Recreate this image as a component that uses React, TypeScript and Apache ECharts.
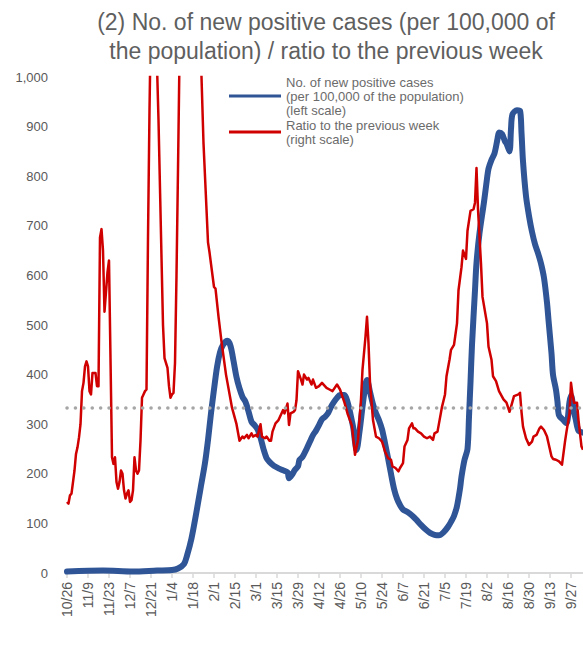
import React, { useEffect, useRef } from 'react';
import * as echarts from 'echarts';

// Title
const titleText = '(2) No. of new positive cases (per 100,000 of\nthe population) / ratio to the previous week';

// Legend names
const caseName = 'No. of new positive cases\n(per 100,000 of the population)\n(left scale)';
const ratioName = 'Ratio to the previous week\n(right scale)';

// X axis: day index from 10/26 (2020), ticks every 14 days
const xTickDays = [0, 14, 28, 42, 56, 70, 84, 98, 112, 126, 140, 154, 168, 182, 196, 210, 224, 238, 252, 266, 280, 294, 308, 322, 336];
const xTickLabels = ['10/26', '11/9', '11/23', '12/7', '12/21', '1/4', '1/18', '2/1', '2/15', '3/1', '3/15', '3/29', '4/12', '4/26', '5/10', '5/24', '6/7', '6/21', '7/5', '7/19', '8/2', '8/16', '8/30', '9/13', '9/27'];

// New positive cases per 100,000 (left scale)
const caseDays = [0, 24, 44, 60, 70, 74, 78, 80, 83, 86, 89, 92, 94, 96, 98, 100, 102, 104, 107, 109, 111, 113, 115, 117, 119, 121, 123, 125, 127, 129, 131, 133, 135, 138, 141, 144, 147, 148, 150, 152, 154, 155, 157, 160, 162, 164, 166, 168, 170, 172, 174, 176, 178, 180, 182, 185, 187, 189, 191, 192, 193, 195, 197, 199, 200, 202, 204, 206, 208, 210, 212, 214, 216, 218, 220, 222, 224, 227, 230, 233, 236, 239, 242, 245, 248, 251, 254, 256, 258, 260, 262, 263, 265, 267, 268, 269, 270, 272, 273, 275, 278, 280, 281, 283, 285, 287, 288, 290, 292, 293, 295, 296, 297, 300, 302, 303, 304, 306, 308, 310, 312, 314, 316, 318, 320, 321, 323, 324, 326, 327, 328, 331, 333, 335, 336, 338, 339, 341, 344];
const caseValues = [3, 5, 3, 5, 6, 9, 18, 35, 70, 118, 170, 222, 268, 322, 370, 415, 445, 460, 468, 458, 428, 395, 372, 355, 345, 326, 305, 298, 290, 273, 250, 232, 224, 216, 211, 207, 203, 191, 198, 208, 215, 228, 234, 252, 265, 278, 287, 298, 310, 315, 322, 335, 345, 353, 359, 359, 345, 320, 290, 265, 248, 285, 335, 380, 389, 365, 340, 322, 308, 290, 262, 232, 200, 170, 150, 137, 128, 123, 116, 107, 97, 88, 81, 77, 76, 82, 93, 103, 115, 135, 170, 194, 228, 250, 315, 385, 460, 570, 625, 685, 748, 795, 815, 833, 846, 875, 888, 885, 870, 866, 850, 895, 925, 933, 932, 888, 830, 760, 720, 688, 663, 645, 624, 595, 545, 510, 443, 400, 369, 345, 318, 308, 302, 345, 358, 325, 312, 287, 283];

// Ratio to the previous week (right scale)
const ratioDays = [0, 1, 2, 3, 4, 5, 6, 7, 8, 9, 10, 11, 12, 13, 14, 15, 16, 17, 19, 20, 21, 22, 23, 24, 25, 26, 27, 28, 30, 31, 32, 33, 34, 35, 36, 37, 38, 39, 40, 41, 42, 43, 44, 45, 46, 47, 48, 49, 50, 51, 52, 53, 54, 55, 56, 59, 61, 63, 64, 65, 67, 68, 69, 70, 71, 72, 73, 74, 76, 88, 89, 91, 93, 94, 95, 96, 98, 99, 101, 103, 106, 107, 110, 113, 115, 117, 118, 120, 121, 123, 124, 126, 127, 129, 130, 132, 133, 135, 136, 137, 139, 141, 142, 144, 145, 147, 148, 149, 151, 152, 153, 154, 156, 157, 158, 160, 161, 163, 164, 166, 168, 170, 173, 175, 177, 180, 182, 185, 187, 190, 191, 192, 194, 196, 197, 199, 200, 201, 202, 204, 206, 208, 210, 212, 214, 216, 217, 219, 221, 222, 224, 225, 227, 228, 230, 231, 232, 234, 236, 238, 240, 242, 244, 245, 247, 248, 250, 252, 253, 255, 256, 258, 260, 261, 263, 264, 266, 267, 269, 271, 272, 273, 274, 276, 277, 280, 281, 283, 284, 286, 288, 291, 293, 295, 296, 298, 301, 302, 303, 304, 306, 308, 310, 311, 313, 315, 316, 318, 320, 321, 323, 324, 326, 328, 330, 331, 332, 333, 335, 336, 337, 338, 340, 341, 343, 344];
const ratioValues = [0.43, 0.42, 0.47, 0.48, 0.55, 0.62, 0.72, 0.76, 0.82, 0.9, 1.1, 1.15, 1.25, 1.28, 1.25, 1.1, 1.08, 1.21, 1.21, 1.13, 1.13, 2.03, 2.08, 1.95, 1.58, 1.7, 1.82, 1.89, 0.7, 0.66, 0.7, 0.55, 0.51, 0.55, 0.62, 0.6, 0.5, 0.45, 0.48, 0.5, 0.43, 0.44, 0.5, 0.7, 0.62, 0.6, 0.62, 0.8, 1.06, 1.08, 1.1, 1.11, 2.03, 2.8, 3.4, 3.4, 2.74, 1.91, 1.5, 1.3, 1.24, 1.13, 1.06, 1.08, 1.09, 1.27, 1.8, 2.44, 3.8, 3.5, 3.2, 2.6, 2.2, 2.0, 1.94, 1.87, 1.73, 1.72, 1.55, 1.4, 1.2, 1.15, 1.0, 0.9, 0.8, 0.825, 0.815, 0.835, 0.815, 0.845, 0.825, 0.835, 0.825, 0.9, 0.825, 0.815, 0.825, 0.8, 0.8, 0.855, 0.905, 0.925, 0.945, 0.985, 0.965, 1.025, 0.895, 0.965, 0.975, 0.985, 1.045, 1.22, 1.17, 1.14, 1.2, 1.17, 1.18, 1.14, 1.17, 1.12, 1.13, 1.15, 1.12, 1.11, 1.1, 1.14, 1.11, 1.03, 0.965, 0.89, 0.8, 0.715, 0.805, 1.05, 1.23, 1.43, 1.55, 1.39, 1.15, 0.925, 0.825, 0.815, 0.795, 0.735, 0.695, 0.685, 0.645, 0.635, 0.615, 0.635, 0.665, 0.765, 0.805, 0.875, 0.905, 0.875, 0.875, 0.855, 0.845, 0.825, 0.815, 0.825, 0.805, 0.845, 0.855, 0.905, 1.005, 1.08, 1.19, 1.29, 1.35, 1.38, 1.51, 1.71, 1.85, 1.95, 1.9, 2.07, 2.19, 2.2, 2.24, 2.45, 2.2, 1.87, 1.67, 1.51, 1.37, 1.29, 1.19, 1.16, 1.1, 1.05, 1.03, 0.975, 1.005, 1.07, 1.08, 1.09, 0.975, 0.885, 0.815, 0.775, 0.795, 0.825, 0.835, 0.875, 0.885, 0.865, 0.825, 0.785, 0.705, 0.69, 0.685, 0.675, 0.655, 0.725, 0.795, 0.855, 0.965, 1.15, 1.08, 1.03, 1.03, 0.925, 0.765, 0.745];

const ratioReference = 1.0;

const FONT = '"Liberation Sans", Arial, sans-serif';
const GRAY = '#595959';

export default function App() {
  const ref = useRef<HTMLDivElement>(null);

  useEffect(() => {
    const chart = echarts.init(ref.current!, null, { renderer: 'svg' });
    const caseData = caseDays.map((d, i) => [d, caseValues[i]]);
    const ratioData = ratioDays.map((d, i) => [d, ratioValues[i]]);
    chart.setOption({
      animation: false,
      backgroundColor: '#ffffff',
      textStyle: { fontFamily: FONT },
      graphic: [
        {
          type: 'text',
          x: 326,
          y: 7,
          style: {
            text: titleText,
            fontSize: 23,
            lineHeight: 29,
            fontFamily: FONT,
            fill: '#5f5f5f',
            align: 'center',
            verticalAlign: 'top',
          },
        },
      ],
      legend: {
        orient: 'vertical',
        left: 229,
        top: 75,
        itemWidth: 52,
        itemHeight: 3,
        itemGap: 1,
        icon: 'rect',
        padding: 0,
        data: [caseName, ratioName],
        textStyle: { fontSize: 13, lineHeight: 14, color: '#6b6b6b', fontFamily: FONT },
      },
      grid: { left: 67, right: 0, top: 77, bottom: 76, containLabel: false },
      xAxis: {
        type: 'value',
        min: 0,
        max: 344,
        interval: 14,
        splitLine: { show: false },
        axisLine: { show: true, lineStyle: { color: '#d9d9d9', width: 2 } },
        axisTick: { show: true, customValues: xTickDays, length: 5, lineStyle: { color: '#d9d9d9', width: 1.5 } },
        axisLabel: {
          customValues: xTickDays,
          rotate: 90,
          margin: 9,
          fontSize: 14,
          color: GRAY,
          fontFamily: FONT,
          formatter: (v: number) => {
            const idx = xTickDays.indexOf(Math.round(v));
            return idx >= 0 ? xTickLabels[idx] : '';
          },
        },
      },
      yAxis: [
        {
          type: 'value',
          min: 0,
          max: 1000,
          interval: 100,
          splitLine: { show: false },
          axisLine: { show: false },
          axisTick: { show: false },
          axisLabel: {
            margin: 19,
            fontSize: 13,
            color: GRAY,
            fontFamily: FONT,
            formatter: (v: number) => v.toLocaleString('en-US'),
          },
        },
        {
          type: 'value',
          min: 0,
          max: 3,
          show: false,
          splitLine: { show: false },
        },
      ],
      series: [
        {
          name: caseName,
          type: 'line',
          yAxisIndex: 0,
          data: caseData,
          showSymbol: false,
          symbol: 'none',
          smooth: 0.3,
          color: '#2F5597',
          itemStyle: { color: '#2F5597' },
          lineStyle: { color: '#2F5597', width: 6, cap: 'round', join: 'round' },
          clip: true,
          z: 2,
        },
        {
          name: ratioName,
          type: 'line',
          yAxisIndex: 1,
          data: ratioData,
          showSymbol: false,
          symbol: 'none',
          color: '#D00000',
          itemStyle: { color: '#D00000' },
          lineStyle: { color: '#D00000', width: 2.5, join: 'round' },
          clip: true,
          z: 3,
          markLine: {
            silent: true,
            symbol: ['none', 'none'],
            label: { show: false },
            lineStyle: { color: '#a6a6a6', width: 3.5, type: [0.1, 8.3], cap: 'round' },
            data: [{ yAxis: ratioReference }],
          },
        },
      ],
    });
    return () => chart.dispose();
  }, []);

  return (
    <div
      ref={ref}
      style={{ position: 'fixed', left: 0, top: 0, width: 583, height: 649, background: '#ffffff' }}
    />
  );
}
